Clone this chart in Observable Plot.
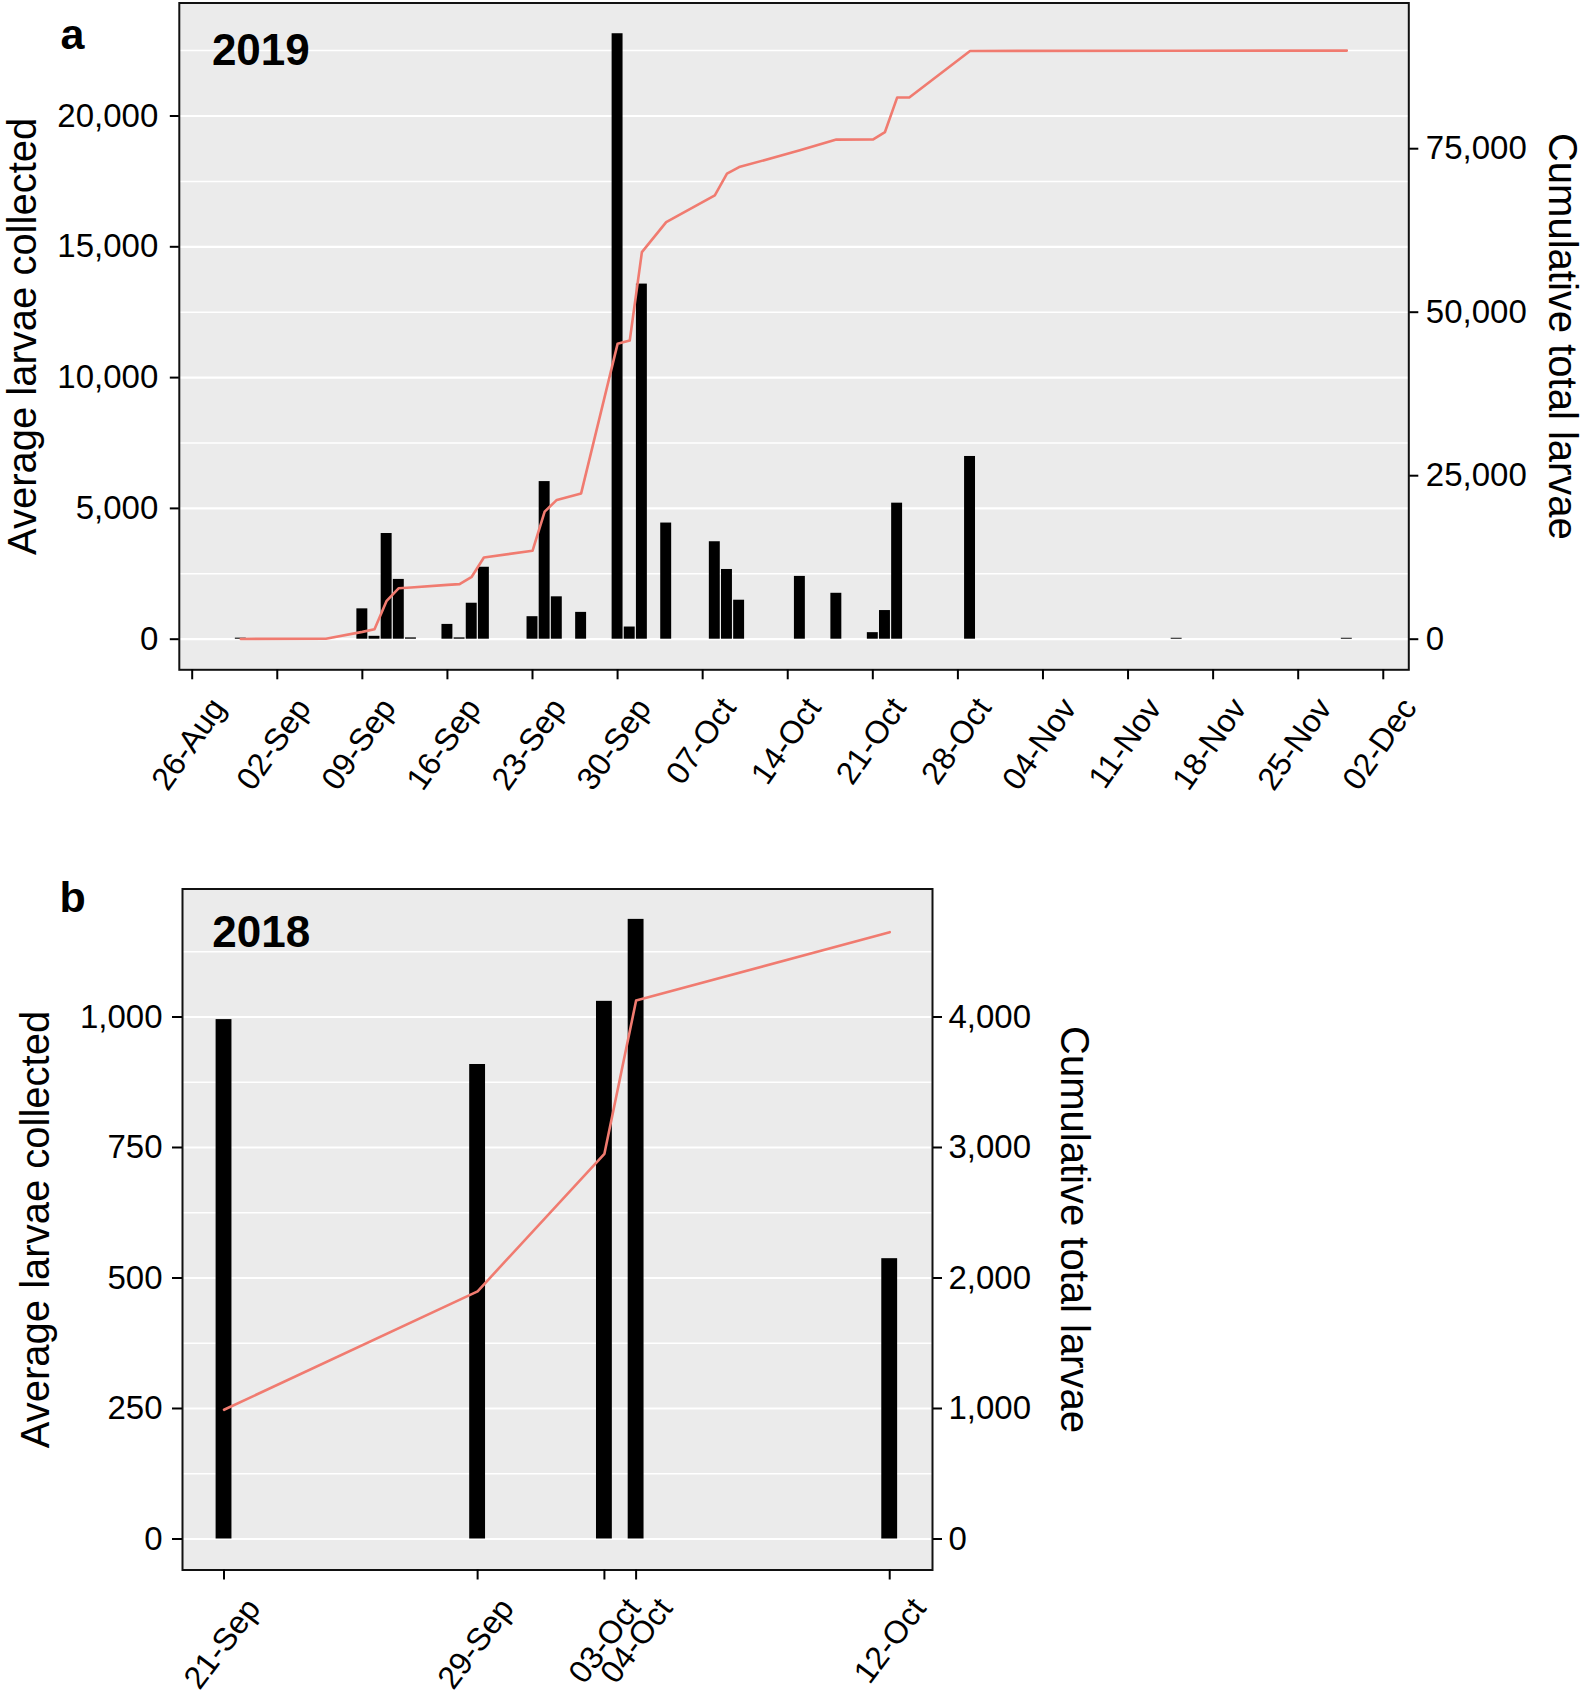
<!DOCTYPE html>
<html>
<head>
<meta charset="utf-8">
<script src="https://cdn.jsdelivr.net/npm/d3@7"></script>
<script src="https://cdn.jsdelivr.net/npm/@observablehq/plot@0.6"></script>
<style>
  html, body { margin: 0; padding: 0; background: #ffffff; }
  #wrap { position: relative; width: 1585px; height: 1695px; overflow: hidden; background: #ffffff; }
  #wrap svg { position: absolute; left: 0; overflow: visible; }
</style>
</head>
<body>
<div id="wrap"></div>
<script>
// ---------- Panel a (2019) ----------
const barDatesA = ["2019-08-30","2019-09-09","2019-09-10","2019-09-11","2019-09-12","2019-09-13","2019-09-16","2019-09-17","2019-09-18","2019-09-19","2019-09-23","2019-09-24","2019-09-25","2019-09-27","2019-09-30","2019-10-01","2019-10-02","2019-10-04","2019-10-08","2019-10-09","2019-10-10","2019-10-15","2019-10-18","2019-10-21","2019-10-22","2019-10-23","2019-10-29","2019-11-15","2019-11-29"];
const avgA = [40,1160,110,4040,2285,50,565,50,1375,2750,860,6025,1620,1025,23145,465,13575,4440,3725,2665,1490,2400,1755,250,1095,5200,6985,35,35];
const cumDatesA = ["2019-08-30","2019-09-06","2019-09-09","2019-09-10","2019-09-11","2019-09-12","2019-09-13","2019-09-16","2019-09-17","2019-09-18","2019-09-19","2019-09-23","2019-09-24","2019-09-25","2019-09-27","2019-09-30","2019-10-01","2019-10-02","2019-10-04","2019-10-08","2019-10-09","2019-10-10","2019-10-15","2019-10-18","2019-10-21","2019-10-22","2019-10-23","2019-10-24","2019-10-29","2019-11-15","2019-11-29"];
const cumA = [40,60,1120,1530,5870,7800,7900,8300,8420,9540,12500,13520,19500,21300,22290,45160,45660,59180,63780,67860,71180,72190,74750,76390,76400,77550,82820,82820,89950,89980,90000];
const xTickLabelsA = ["26-Aug","02-Sep","09-Sep","16-Sep","23-Sep","30-Sep","07-Oct","14-Oct","21-Oct","28-Oct","04-Nov","11-Nov","18-Nov","25-Nov","02-Dec"];
const yTicksA = [0,5000,10000,15000,20000];
const yMinorA = [2500,7500,12500,17500,22500];
const yTicksRightA = [0,25000,50000,75000];

// ---------- Panel b (2018) ----------
const barDatesB = ["2018-09-21","2018-09-29","2018-10-03","2018-10-04","2018-10-12"];
const avgB = [995,909,1030,1187,537];
const cumB = [990,1898,2952,4126,4650];
const xTickLabelsB = ["21-Sep","29-Sep","03-Oct","04-Oct","12-Oct"];
const yTicksB = [0,250,500,750,1000];
const yMinorB = [125,375,625,875,1125];
const yTicksRightB = [0,1000,2000,3000,4000];

const SEC = 4; // secondary axis = 4 x primary
const DAY = 864e5;
const parseISO = d3.utcParse("%Y-%m-%d");
const parseLbl = (s, yr) => d3.utcParse("%d-%b-%Y")(s + "-" + yr);
const fmtComma = d3.format(",");
const FONT = '"Liberation Sans", Arial, Helvetica, sans-serif';
const LINE = "#F07B70";

const barsA = barDatesA.map((d, i) => ({date: parseISO(d), avg: avgA[i]}));
const lineA = cumDatesA.map((d, i) => ({date: parseISO(d), cum: cumA[i]}));
const ticksA = xTickLabelsA.map(s => parseLbl(s, 2019));
const barsB = barDatesB.map((d, i) => ({date: parseISO(d), avg: avgB[i]}));
const lineB = barDatesB.map((d, i) => ({date: parseISO(d), cum: cumB[i]}));
const ticksB = xTickLabelsB.map(s => parseLbl(s, 2018));

const wrap = document.getElementById("wrap");
const baseStyle = {fontFamily: FONT, fontSize: "33px", color: "#000", background: "none", overflow: "visible"};

const t0A = ticksA[0];
const plotA = Plot.plot({
  width: 1585, height: 820,
  marginLeft: 178.8, marginRight: 176.7, marginTop: 2.5, marginBottom: 150.7,
  style: baseStyle,
  x: {type: "utc", domain: [new Date(+t0A - 1.061 * DAY), new Date(+t0A + 100.1 * DAY)]},
  y: {domain: [-1170, 24320]},
  marks: [
    Plot.frame({fill: "#EBEBEB", stroke: null}),
    Plot.ruleY(yMinorA, {stroke: "#ffffff", strokeWidth: 1.5}),
    Plot.ruleY(yTicksA, {stroke: "#ffffff", strokeWidth: 2.2}),
    Plot.rect(barsA, {x1: d => new Date(+d.date - 0.45 * DAY), x2: d => new Date(+d.date + 0.45 * DAY), y1: 0, y2: "avg", fill: "#000"}),
    Plot.line(lineA, {x: "date", y: d => d.cum / SEC, stroke: LINE, strokeWidth: 2.6}),
    Plot.frame({stroke: "#111", strokeWidth: 2}),
    Plot.axisY({anchor: "left", ticks: yTicksA, tickSize: 9, tickPadding: 12, strokeWidth: 2, tickFormat: fmtComma, fontSize: 33, label: null}),
    Plot.axisY({anchor: "right", ticks: yTicksRightA.map(v => v / SEC), tickSize: 9, tickPadding: 8, strokeWidth: 2, tickFormat: d => fmtComma(Math.round(d * SEC)), fontSize: 33, label: null}),
    Plot.axisX({ticks: ticksA, tickSize: 10, strokeWidth: 2, tickFormat: () => "", label: null}),
    Plot.text(ticksA, {x: d => d, text: (d, i) => xTickLabelsA[i], frameAnchor: "bottom", dx: 16, dy: 25, rotate: -55, textAnchor: "end", lineAnchor: "top", fontSize: 32, fill: "#000"}),
    Plot.text(["Average larvae collected"], {frameAnchor: "left", dx: -156.3, rotate: -90, textAnchor: "middle", lineAnchor: "middle", fontSize: 40, fill: "#000"}),
    Plot.text(["Cumulative total larvae"], {frameAnchor: "right", dx: 152.7, rotate: 90, textAnchor: "middle", lineAnchor: "middle", fontSize: 40, fill: "#000"}),
    Plot.text(["2019"], {frameAnchor: "top-left", dx: 32.6, dy: 30.8, textAnchor: "start", lineAnchor: "top", fontSize: 44, fontWeight: "bold", fill: "#000"}),
    Plot.text(["a"], {frameAnchor: "top-left", dx: -118.8, dy: 45.8, textAnchor: "start", lineAnchor: "bottom", fontSize: 43, fontWeight: "bold", fill: "#000"})
  ]
});
plotA.style.top = "0px";
wrap.appendChild(plotA);

const t0B = ticksB[0];
const plotB = Plot.plot({
  width: 1100, height: 855,
  marginLeft: 182, marginRight: 168, marginTop: 48.5, marginBottom: 125.5,
  style: baseStyle,
  x: {type: "utc", domain: [new Date(+t0B - 1.31 * DAY), new Date(+t0B + 22.35 * DAY)]},
  y: {domain: [-59.4, 1245.2]},
  marks: [
    Plot.frame({fill: "#EBEBEB", stroke: null}),
    Plot.ruleY(yMinorB, {stroke: "#ffffff", strokeWidth: 1.5}),
    Plot.ruleY(yTicksB, {stroke: "#ffffff", strokeWidth: 2.2}),
    Plot.rect(barsB, {x1: d => new Date(+d.date - 0.25 * DAY), x2: d => new Date(+d.date + 0.25 * DAY), y1: 0, y2: "avg", fill: "#000"}),
    Plot.line(lineB, {x: "date", y: d => d.cum / SEC, stroke: LINE, strokeWidth: 2.6}),
    Plot.frame({stroke: "#111", strokeWidth: 2}),
    Plot.axisY({anchor: "left", ticks: yTicksB, tickSize: 10, tickPadding: 10, strokeWidth: 2, tickFormat: fmtComma, fontSize: 33, label: null}),
    Plot.axisY({anchor: "right", ticks: yTicksRightB.map(v => v / SEC), tickSize: 9, tickPadding: 7, strokeWidth: 2, tickFormat: d => fmtComma(Math.round(d * SEC)), fontSize: 33, label: null}),
    Plot.axisX({ticks: ticksB, tickSize: 10, strokeWidth: 2, tickFormat: () => "", label: null}),
    Plot.text(ticksB, {x: d => d, text: (d, i) => xTickLabelsB[i], frameAnchor: "bottom", dx: 19.5, dy: 25, rotate: -53, textAnchor: "end", lineAnchor: "top", fontSize: 32, fill: "#000"}),
    Plot.text(["Average larvae collected"], {frameAnchor: "left", dx: -146.3, rotate: -90, textAnchor: "middle", lineAnchor: "middle", fontSize: 40, fill: "#000"}),
    Plot.text(["Cumulative total larvae"], {frameAnchor: "right", dx: 141.6, rotate: 90, textAnchor: "middle", lineAnchor: "middle", fontSize: 40, fill: "#000"}),
    Plot.text(["2018"], {frameAnchor: "top-left", dx: 29.8, dy: 26.5, textAnchor: "start", lineAnchor: "top", fontSize: 44, fontWeight: "bold", fill: "#000"}),
    Plot.text(["b"], {frameAnchor: "top-left", dx: -123, dy: 23.2, textAnchor: "start", lineAnchor: "bottom", fontSize: 43, fontWeight: "bold", fill: "#000"})
  ]
});
plotB.style.top = "840px";
wrap.appendChild(plotB);
</script>
</body>
</html>
